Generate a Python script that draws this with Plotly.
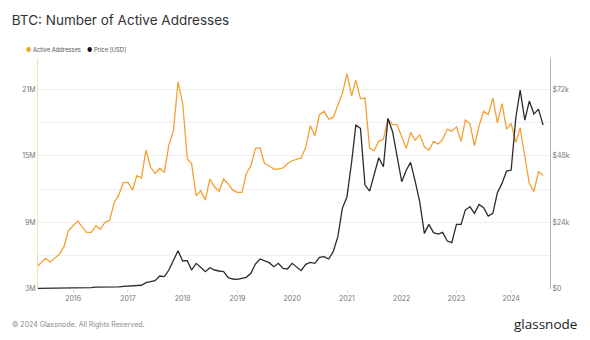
import pandas as pd
import plotly.graph_objects as go

dates = pd.date_range("2015-05-01", periods=112, freq="MS")

active_addresses_m = [
    4.95, 5.35, 5.76, 5.43, 5.78, 6.12, 6.81, 8.25,
    8.7, 9.13, 8.6, 8.1, 8.1, 8.7, 8.38, 9.0, 9.19, 10.77, 11.47, 12.58,
    12.6, 11.9, 13.2, 13.0, 15.5, 13.96, 13.4, 13.87, 13.5, 15.97, 17.3, 21.66,
    19.7, 14.7, 14.3, 11.4, 11.85, 11.0, 12.9, 12.2, 11.8, 12.9, 12.46, 11.9,
    11.7, 11.7, 13.4, 14.08, 15.66, 15.7, 14.3, 14.1, 13.8, 13.8, 13.9, 14.3,
    14.55, 14.65, 14.8, 15.76, 17.7, 16.8, 18.7, 19.0, 18.3, 18.45, 19.56, 20.6,
    22.4, 20.4, 21.8, 20.15, 20.2, 15.66, 15.45, 16.3, 16.5, 18.3, 17.8, 17.8,
    16.7, 15.66, 17.1, 16.4, 16.9, 15.8, 15.5, 16.3, 16.05, 16.5, 17.4, 17.2,
    17.6, 16.3, 18.2, 17.9, 15.9, 17.7, 19.0, 18.7, 20.2, 17.96, 19.7, 17.4,
    17.9, 16.2, 17.5, 15.06, 12.5, 11.77, 13.56, 13.24,
]
price_usd = [
    240, 260, 280, 230, 240, 310, 380, 430,
    400, 420, 420, 450, 530, 680, 650, 580, 610, 700, 740, 960,
    1000, 1150, 1100, 1350, 2270, 2600, 3000, 4680, 4440, 6840, 10300, 13800,
    10080, 10200, 6840, 9240, 7800, 6240, 7680, 6840, 6480, 6240, 4080, 3600,
    3480, 3840, 4200, 5640, 9000, 10800, 10080, 9480, 8040, 9240, 7440, 7200,
    9240, 8000, 6600, 8900, 9600, 9240, 11400, 11640, 10800, 13440, 18840, 29040,
    33240, 45840, 59040, 57840, 37440, 35280, 41640, 47280, 44040, 61440, 56640, 47640,
    38640, 42840, 45600, 38640, 31440, 20040, 23280, 20280, 19800, 20400, 17280, 16680,
    23280, 23280, 28440, 29640, 27240, 30480, 29280, 26280, 27240, 34680, 38040, 42480,
    42840, 61680, 71640, 60840, 67680, 63000, 64800, 59040,
]

series_names = ["Active Addresses", "Price [USD]"]
left_tickvals = [3e6, 6e6, 9e6, 12e6, 15e6, 18e6, 21e6]
left_ticktext = ["3M", "", "9M", "", "15M", "", "21M"]
right_tickvals = [0, 24000, 48000, 72000]
right_ticktext = ["$0", "$24k", "$48k", "$72k"]

ORANGE = "#f5a033"
DARK = "#2b2b2b"

fig = go.Figure()
fig.add_trace(go.Scatter(
    x=dates, y=[v * 1e6 for v in active_addresses_m], mode="lines", name=series_names[0],
    line=dict(color=ORANGE, width=1.3), showlegend=False, yaxis="y"))
fig.add_trace(go.Scatter(
    x=dates, y=price_usd, mode="lines", name=series_names[1],
    line=dict(color=DARK, width=1.3), showlegend=False, yaxis="y2"))

legend_font = dict(size=5.8, color="#555")
annotations = [
    dict(text=f"<span style='color:{ORANGE}'>●</span> {series_names[0]}",
         xref="paper", yref="paper", x=-0.023, xanchor="left", y=1.035, yanchor="middle",
         xshift=-2, showarrow=False, font=legend_font),
    dict(text=f"<span style='color:#111'>●</span> {series_names[1]}",
         xref="paper", yref="paper", x=0.098, xanchor="left", y=1.035, yanchor="middle",
         xshift=-3, showarrow=False, font=legend_font),
    dict(text="© 2024 Glassnode. All Rights Reserved.", xref="paper", yref="paper",
         x=-0.05, xanchor="left", y=-0.155, yanchor="middle", showarrow=False,
         xshift=-2, font=dict(size=7, color="#8a8a8a")),
    dict(text="glassnode", xref="paper", yref="paper",
         x=1.055, xanchor="right", y=-0.15, yanchor="middle", showarrow=False, xshift=1,
         font=dict(size=13.5, color="#1a1a1a", family="Open Sans, Inter, sans-serif")),
]

fig.update_layout(
    width=590, height=340,
    margin=dict(l=38, r=40, t=58, b=51),
    paper_bgcolor="white", plot_bgcolor="white",
    font=dict(family="Inter, Roboto, sans-serif", color="#666", size=7),
    showlegend=False,
    title=dict(text="BTC: Number of Active Addresses", x=0.02, xanchor="left",
               y=0.94, yanchor="middle",
               font=dict(size=13.5, color="#333", family="Inter, Roboto, sans-serif")),
    xaxis=dict(type="date", range=["2015-05-12", "2024-09-16"],
               dtick="M12", tick0="2016-01-01", tickformat="%Y",
               showgrid=False, ticks="outside", ticklen=3, tickcolor="#e0e0e0",
               showline=False, zeroline=False, tickfont=dict(size=7, color="#777")),
    yaxis=dict(range=[3e6, 23.8e6], tickvals=left_tickvals, ticktext=left_ticktext,
               showgrid=True, gridcolor="#efefef", gridwidth=1,
               showline=True, linecolor="#f9dcb0", linewidth=1,
               zeroline=False, ticks="", tickfont=dict(size=7, color="#777")),
    yaxis2=dict(range=[0, 83200], tickvals=right_tickvals, ticktext=right_ticktext,
                overlaying="y", side="right", showgrid=False,
                showline=True, linecolor="#b5b5b5", linewidth=1,
                zeroline=False, ticks="", tickfont=dict(size=7, color="#777")),
    annotations=annotations,
)

fig.write_html("out.html")
